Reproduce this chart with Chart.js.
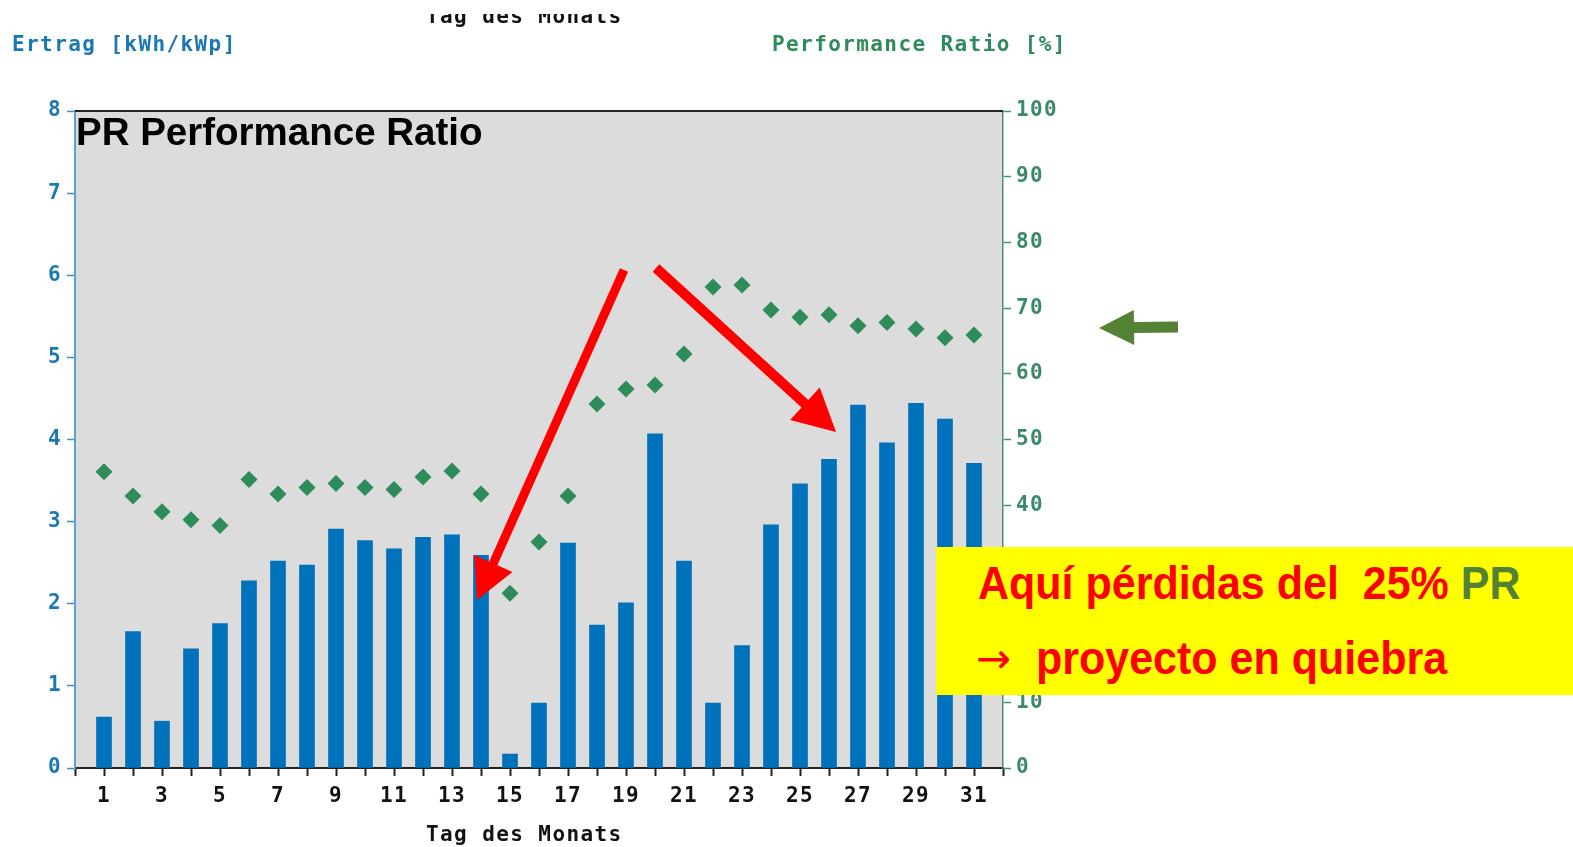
<!DOCTYPE html>
<html>
<head>
<meta charset="utf-8">
<title>PR Performance Ratio</title>
<script src="https://cdn.jsdelivr.net/npm/chart.js@4.4.1/dist/chart.umd.min.js"></script>
<style>
    html, body { margin: 0; padding: 0; background: #fff; }
    #wrap { position: relative; width: 1573px; height: 847px; overflow: hidden; }
    #chart { position: absolute; left: 0; top: 0; }
    .mono {
        position: absolute; white-space: pre;
        font-family: "DejaVu Sans Mono", "Liberation Mono", monospace;
        font-weight: bold; font-size: 21px; line-height: 24px; letter-spacing: 1.4px;
    }
    .ax-left { left: 12px; top: 32px; color: #1a78b4; }
    .ax-right { left: 772px; top: 32px; color: #2e8b5a; }
    .ax-bottom { left: 426px; top: 822px; color: #111; }
    .clip-top { position: absolute; left: 426px; top: 14px; width: 220px; height: 20px; overflow: hidden; }
    .clip-top .mono { left: 0; top: -10px; color: #111; }
    .title {
        position: absolute; left: 76px; top: 113px; white-space: pre;
        font-family: "Liberation Sans", Arial, sans-serif; font-weight: bold;
        font-size: 38.5px; line-height: 38px; color: #000;
    }
    .note {
        position: absolute; left: 936px; top: 547px; width: 637px; height: 148px;
        background: #ffff00;
    }
    .note .line {
        position: absolute; white-space: pre; transform: scaleX(0.935); transform-origin: left top;
        font-family: "Liberation Sans", Arial, sans-serif; font-weight: bold;
        font-size: 46px; line-height: 46px; color: #ff0000;
    }
    .note .l1 { left: 42px; top: 13px; }
    .note .l2 { left: 100px; top: 88px; }
    .note .pr { color: #548235; }
    .note .arrow {
        position: absolute; left: 40px; top: 89px; white-space: pre;
        font-family: "DejaVu Sans", sans-serif; font-size: 42px; line-height: 46px; color: #ff0000;
    }
</style>
</head>
<body>
<div id="wrap">
    <canvas id="chart" width="1573" height="847"></canvas>
    <div class="clip-top"><div class="mono">Tag des Monats</div></div>
    <div class="mono ax-left">Ertrag [kWh/kWp]</div>
    <div class="mono ax-right">Performance Ratio [%]</div>
    <div class="mono ax-bottom">Tag des Monats</div>
    <div class="title">PR Performance Ratio</div>
    <div class="note">
        <div class="line l1">Aquí pérdidas del  25% <span class="pr">PR</span></div>
        <div class="arrow">→</div>
        <div class="line l2">proyecto en quiebra</div>
    </div>
</div>
<script>
/* daily yield and PR for one month */
const days = [1, 2, 3, 4, 5, 6, 7, 8, 9, 10, 11, 12, 13, 14, 15, 16,
    17, 18, 19, 20, 21, 22, 23, 24, 25, 26, 27, 28, 29, 30, 31];
const ertrag = [0.62, 1.66, 0.57, 1.45, 1.76, 2.28, 2.52, 2.47, 2.91, 2.77, 2.67, 2.81, 2.84, 2.59, 0.17, 0.79,
    2.74, 1.74, 2.01, 4.07, 2.52, 0.79, 1.49, 2.96, 3.46, 3.76, 4.42, 3.96, 4.44, 4.25, 3.71];
const prRatio = [45.1, 41.4, 39.0, 37.8, 36.9, 43.9, 41.7, 42.7, 43.3, 42.7, 42.4, 44.3, 45.2, 41.7, 26.6, 34.4,
    41.4, 55.4, 57.7, 58.3, 63.0, 73.2, 73.5, 69.7, 68.6, 69.0, 67.3, 67.8, 66.8, 65.5, 65.9];
const labelledDays = [1, 3, 5, 7, 9, 11, 13, 15, 17, 19, 21, 23, 25, 27, 29, 31];

const BLUE = "#0072bb";
const GREEN = "#2e8b5a";
const tickFont = { family: "DejaVu Sans Mono", size: 21, weight: "bold" };

/* ---------- annotation shapes (pixels of the slide) ---------- */
const arrows = [
    { x0: 624, y0: 270, x1: 477, y1: 600, shaft: 9, head: 40, half: 21, color: "#ff0000" },
    { x0: 656, y0: 268, x1: 836, y1: 432, shaft: 10, head: 42, half: 22, color: "#ff0000" },
    { x0: 1178, y0: 327, x1: 1099, y1: 328, shaft: 11, head: 35, half: 17.5, color: "#548235" }
];

function drawArrow(ctx, a) {
    const dx = a.x1 - a.x0, dy = a.y1 - a.y0, len = Math.hypot(dx, dy);
    const ux = dx / len, uy = dy / len, nx = -uy, ny = ux;
    const bx = a.x1 - ux * a.head, by = a.y1 - uy * a.head;
    const s = a.shaft / 2, h = a.half;
    ctx.beginPath();
    ctx.moveTo(a.x0 + nx * s, a.y0 + ny * s);
    ctx.lineTo(bx + nx * s, by + ny * s);
    ctx.lineTo(bx + nx * h, by + ny * h);
    ctx.lineTo(a.x1, a.y1);
    ctx.lineTo(bx - nx * h, by - ny * h);
    ctx.lineTo(bx - nx * s, by - ny * s);
    ctx.lineTo(a.x0 - nx * s, a.y0 - ny * s);
    ctx.closePath();
    ctx.fillStyle = a.color;
    ctx.fill();
}

const plotFrame = {
    id: "plotFrame",
    beforeDraw(chart) {
        const { ctx, chartArea: a } = chart;
        ctx.letterSpacing = "1.4px";
        ctx.save();
        ctx.fillStyle = "#dcdcdc";
        ctx.fillRect(a.left, a.top, a.right - a.left, a.bottom - a.top);
        ctx.restore();
    },
    afterDraw(chart) {
        const { ctx, chartArea: a } = chart;
        ctx.save();
        ctx.strokeStyle = "#222";
        ctx.lineWidth = 2;
        ctx.beginPath();
        ctx.moveTo(a.left, a.top);
        ctx.lineTo(a.right, a.top);
        ctx.stroke();
        arrows.forEach(ar => drawArrow(ctx, ar));
        ctx.restore();
    }
};

new Chart(document.getElementById("chart"), {
    type: "bar",
    data: {
        datasets: [
            {
                type: "line",
                data: days.map((d, i) => ({ x: d, y: prRatio[i] })),
                yAxisID: "y1",
                showLine: false,
                pointStyle: "rectRot",
                pointRadius: 8.5,
                pointBorderWidth: 0,
                pointBackgroundColor: GREEN,
                order: 1
            },
            {
                type: "bar",
                data: days.map((d, i) => ({ x: d, y: ertrag[i] })),
                yAxisID: "y",
                backgroundColor: BLUE,
                barThickness: 15,
                order: 2
            }
        ]
    },
    options: {
        responsive: false,
        animation: false,
        devicePixelRatio: 1,
        layout: { padding: { left: 0, right: 500, top: 111, bottom: 0 } },
        plugins: { legend: { display: false }, tooltip: { enabled: false } },
        scales: {
            x: {
                type: "linear", min: 0, max: 32, offset: false,
                ticks: {
                    stepSize: 1, autoSkip: false, maxRotation: 0, color: "#111", font: tickFont, padding: 8,
                    callback: v => labelledDays.includes(v) ? String(v) : ""
                },
                grid: { drawOnChartArea: false, offset: false, tickLength: 8, tickColor: "#222", tickWidth: 2 },
                border: { color: "#222", width: 2 },
                afterFit: s => { s.height = 79; }
            },
            y: {
                position: "left", min: 0, max: 8,
                ticks: { stepSize: 1, color: "#1a78b4", font: tickFont, padding: 5 },
                grid: { drawOnChartArea: false, tickLength: 8, tickColor: "#3d8cc4", tickWidth: 1.5 },
                border: { color: "#5aa2d6", width: 2 },
                afterFit: s => { s.width = 75; }
            },
            y1: {
                position: "right", min: 0, max: 100,
                ticks: { stepSize: 10, color: "#3a8a66", font: tickFont, padding: 5 },
                grid: { drawOnChartArea: false, tickLength: 8, tickColor: "#4a8f6e", tickWidth: 1.5 },
                border: { color: "#4a8f6e", width: 1.5 },
                afterFit: s => { s.width = 70; }
            }
        }
    },
    plugins: [plotFrame]
});
</script>
</body>
</html>
